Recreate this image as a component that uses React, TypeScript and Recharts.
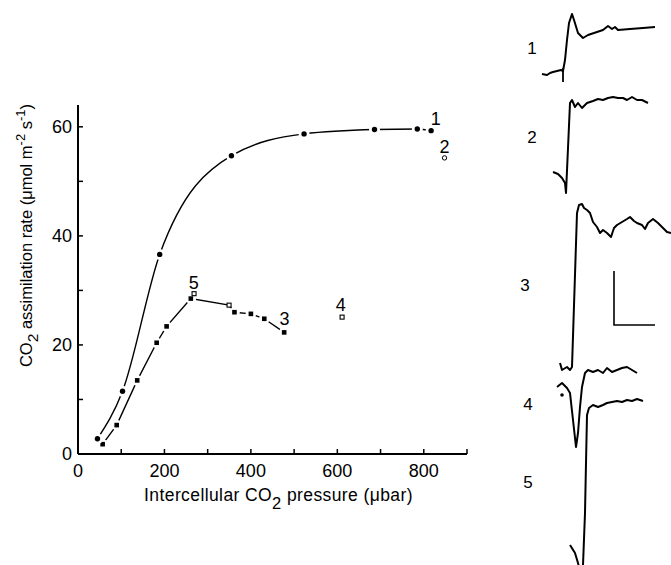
import React from "react";
import { ComposedChart, Line, Scatter, XAxis, YAxis } from "recharts";

// upper curve, filled circles
const upperX = [45, 103, 189, 355, 523, 686, 785, 817];
const upperY = [2.8, 11.5, 36.6, 54.7, 58.7, 59.5, 59.6, 59.3];

// lower curve, filled squares (one open square sits on the line)
const lowerX = [57, 89.5, 137, 182, 205, 261, 349.5, 362, 400, 431, 477];
const lowerY = [1.8, 5.3, 13.5, 20.4, 23.4, 28.5, 27.3, 26.0, 25.7, 24.8, 22.3];
const lowerOpen = [false, false, false, false, false, false, true, false, false, false, false];

// loose open markers
const openSquareX = [268.5, 611];
const openSquareY = [29.4, 25.1];
const openCircleX = [848];
const openCircleY = [54.3];

// point numbers
const pointLabels = ["1", "2", "3", "4", "5"];
const pointLabelX = [828, 848, 478, 608, 268];
const pointLabelY = [61.4, 56.3, 24.7, 27.3, 31.4];

const xTicks = [0, 100, 200, 300, 400, 500, 600, 700, 800, 900];
const yTicks = [0, 10, 20, 30, 40, 50, 60];

// recordings on the right (time, signal with display offset)
const trace1T = [2, 7, 10, 13, 17, 21, 23, 25, 27, 29, 32, 34, 38, 43, 48, 57, 63, 68, 72, 75, 78, 90, 103, 115];
const trace1V = [491, 490, 492, 493, 494, 495, 494, 505, 525, 542, 551, 545, 532, 527, 530, 533, 535, 539, 536, 538, 535, 536, 537, 538];
const mark1T = [23, 23];
const mark1V = [497, 483];

const trace2T = [13, 18, 22, 25, 26, 30, 32, 35, 38, 42, 47, 53, 58, 63, 68, 73, 78, 83, 87, 92, 97, 102, 108];
const trace2V = [393, 391, 387, 382, 372, 462, 465, 458, 462, 457, 462, 464, 466, 465, 467, 468, 467, 467, 465, 468, 465, 465, 462];

const trace3T = [20, 22, 27, 30, 32, 37, 39, 42, 44, 47, 50, 53, 57, 60, 63, 67, 71, 74, 77, 82, 87, 90, 94, 97, 102, 105, 108, 113, 118, 122, 127, 131];
const trace3V = [202, 195, 198, 195, 198, 352, 360, 361, 357, 355, 352, 343, 338, 332, 335, 332, 328, 337, 340, 343, 346, 348, 344, 342, 340, 336, 342, 346, 342, 338, 333, 332];

const trace4T = [17, 22, 27, 30, 33, 36, 38, 40, 42, 45, 48, 53, 58, 63, 67, 72, 77, 82, 87, 92, 97];
const trace4V = [178, 182, 177, 172, 145, 118, 132, 158, 178, 192, 195, 193, 195, 192, 197, 193, 195, 197, 198, 195, 192];
const mark4T = [22];
const mark4V = [170];

const trace5T = [30, 35, 38, 40, 42, 43, 45, 46, 47, 49, 53, 58, 63, 67, 72, 77, 82, 87, 92, 97, 103];
const trace5V = [20, 12, 2, -6, -6, 0, 52, 102, 150, 157, 160, 158, 160, 162, 163, 164, 163, 165, 164, 166, 164];

const scaleBarT = [74, 74, 115];
const scaleBarV = [294, 240, 240];

const traceLabels = ["1", "2", "3", "4", "5"];
const traceLabelT = [-8, -8, -15, -12, -12];
const traceLabelV = [517, 428, 280, 161, 83];

const zip = (xs: number[], ys: number[]) => xs.map((x, i) => ({ x, y: ys[i] }));
const zipT = (ts: number[], vs: number[]) => ts.map((t, i) => ({ t, v: vs[i] }));

const upperData = zip(upperX, upperY);
const lowerData = lowerX.map((x, i) => ({ x, y: lowerY[i], open: lowerOpen[i] }));
const openSquareData = zip(openSquareX, openSquareY);
const openCircleData = zip(openCircleX, openCircleY);
const pointLabelData = pointLabels.map((label, i) => ({ x: pointLabelX[i], y: pointLabelY[i], label }));

const traceData = [
  zipT(trace1T, trace1V),
  zipT(trace2T, trace2V),
  zipT(trace3T, trace3V),
  zipT(trace4T, trace4V),
  zipT(trace5T, trace5V),
];
const traceLabelData = traceLabels.map((label, i) => ({ t: traceLabelT[i], v: traceLabelV[i], label }));

const CircleDot = (props: any) => {
  const { cx, cy, index } = props;
  if (cx == null || cy == null) return <g key={`c${index}`} />;
  return (
    <g key={`c${index}`}>
      <circle cx={cx} cy={cy} r={5.5} fill="#fff" />
      <circle cx={cx} cy={cy} r={2.7} fill="#000" />
    </g>
  );
};

const SquareDot = (props: any) => {
  const { cx, cy, index, payload } = props;
  if (cx == null || cy == null) return <g key={`s${index}`} />;
  if (payload && payload.open) {
    return (
      <rect key={`s${index}`} x={cx - 2} y={cy - 2} width={4} height={4} fill="#fff" stroke="#000" strokeWidth={1.1} />
    );
  }
  return (
    <g key={`s${index}`}>
      <circle cx={cx} cy={cy} r={5.3} fill="#fff" />
      <rect x={cx - 2.3} y={cy - 2.3} width={4.6} height={4.6} fill="#000" />
    </g>
  );
};

const OpenSquare = (props: any) => (
  <rect x={props.cx - 2} y={props.cy - 2} width={4} height={4} fill="#fff" stroke="#000" strokeWidth={1.1} />
);

const OpenCircle = (props: any) => (
  <circle cx={props.cx} cy={props.cy} r={2.2} fill="#fff" stroke="#000" strokeWidth={1} />
);

const NumberText = (props: any) => (
  <text x={props.cx} y={props.cy} textAnchor="middle" dominantBaseline="central" fontSize={18} fill="#000">
    {props.payload.label}
  </text>
);

const YTitle = (props: any) => {
  const vb = props.viewBox;
  const cx = vb.x + 14;
  const cy = vb.y + vb.height / 2 - 44;
  return (
    <text x={cx} y={cy} transform={`rotate(-90, ${cx}, ${cy})`} textAnchor="middle" fontSize={16.5} fill="#000">
      CO<tspan dy={6} fontSize={15.5}>2</tspan>
      <tspan dy={-6}> assimilation rate (μmol m</tspan>
      <tspan dy={-7} fontSize={13}>-2</tspan>
      <tspan dy={7}> s</tspan>
      <tspan dy={-7} fontSize={13}>-1</tspan>
      <tspan dy={7}>)</tspan>
    </text>
  );
};

const XTitle = (props: any) => {
  const vb = props.viewBox;
  const cx = vb.x + vb.width / 2 + 6;
  const cy = vb.y + 47;
  return (
    <text x={cx} y={cy} textAnchor="middle" fontSize={17.5} letterSpacing={0.4} fill="#000">
      Intercellular CO<tspan dy={8} fontSize={16.5}>2</tspan>
      <tspan dy={-8}> pressure (μbar)</tspan>
    </text>
  );
};

const tickFont = { fontSize: 18, fill: "#000" };
const axisLine = { stroke: "#000", strokeWidth: 2 };
const tickLine = { stroke: "#000", strokeWidth: 1.5 };

function AssimilationChart() {
  return (
    <ComposedChart width={490} height={565} margin={{ top: 105, right: 23, bottom: 81, left: 18 }}>
      <XAxis
        type="number"
        dataKey="x"
        domain={[0, 900]}
        ticks={xTicks}
        interval={0}
        tickFormatter={(v) => (v % 200 === 0 && v < 900 ? String(v) : "")}
        tick={tickFont}
        tickSize={-5}
        tickMargin={15}
        axisLine={axisLine}
        tickLine={tickLine}
        height={30}
        label={{ content: XTitle }}
      />
      <XAxis
        xAxisId="top"
        orientation="top"
        type="number"
        dataKey="x"
        domain={[0, 900]}
        ticks={xTicks}
        interval={0}
        tick={false}
        tickSize={-5}
        axisLine={axisLine}
        tickLine={tickLine}
        height={0}
      />
      <YAxis
        type="number"
        domain={[0, 64]}
        ticks={yTicks}
        interval={0}
        tickFormatter={(v) => (v % 20 === 0 ? String(v) : "")}
        tick={tickFont}
        tickSize={-5}
        tickMargin={11}
        axisLine={axisLine}
        tickLine={tickLine}
        width={60}
        label={{ content: YTitle }}
      />
      <YAxis
        yAxisId="right"
        orientation="right"
        type="number"
        domain={[0, 64]}
        ticks={yTicks}
        interval={0}
        tick={false}
        tickSize={-5}
        axisLine={axisLine}
        tickLine={tickLine}
        width={0}
      />
      <Line
        data={lowerData}
        dataKey="y"
        type="linear"
        stroke="#000"
        strokeWidth={1.4}
        dot={SquareDot}
        activeDot={false}
        isAnimationActive={false}
      />
      <Line
        data={upperData}
        dataKey="y"
        type="monotone"
        stroke="#000"
        strokeWidth={1.4}
        dot={CircleDot}
        activeDot={false}
        isAnimationActive={false}
      />
      <Scatter data={openSquareData} dataKey="y" shape={OpenSquare} isAnimationActive={false} />
      <Scatter data={openCircleData} dataKey="y" shape={OpenCircle} isAnimationActive={false} />
      <Scatter data={pointLabelData} dataKey="y" shape={NumberText} isAnimationActive={false} />
    </ComposedChart>
  );
}

function TraceChart() {
  return (
    <ComposedChart width={156} height={565} margin={{ top: 0, right: 0, bottom: 0, left: 0 }}>
      <XAxis type="number" dataKey="t" domain={[-25, 131]} hide allowDataOverflow />
      <YAxis type="number" domain={[0, 565]} hide allowDataOverflow />
      {traceData.map((d, i) => (
        <Line
          key={i}
          data={d}
          dataKey="v"
          type="linear"
          stroke="#000"
          strokeWidth={2}
          strokeLinejoin="round"
          dot={false}
          activeDot={false}
          isAnimationActive={false}
        />
      ))}
      <Line
        data={zipT(mark1T, mark1V)}
        dataKey="v"
        type="linear"
        stroke="#000"
        strokeWidth={1.8}
        dot={false}
        activeDot={false}
        isAnimationActive={false}
      />
      <Line
        data={zipT(scaleBarT, scaleBarV)}
        dataKey="v"
        type="linear"
        stroke="#000"
        strokeWidth={1.6}
        dot={false}
        activeDot={false}
        isAnimationActive={false}
      />
      <Scatter
        data={zipT(mark4T, mark4V)}
        dataKey="v"
        shape={(p: any) => <circle cx={p.cx} cy={p.cy} r={1.8} fill="#000" />}
        isAnimationActive={false}
      />
      <Scatter
        data={traceLabelData}
        dataKey="v"
        shape={(p: any) => (
          <text x={p.cx} y={p.cy} textAnchor="middle" dominantBaseline="central" fontSize={17} fill="#000">
            {p.payload.label}
          </text>
        )}
        isAnimationActive={false}
      />
    </ComposedChart>
  );
}

export default function App() {
  return (
    <div
      style={{
        position: "absolute",
        left: 0,
        top: 0,
        width: 671,
        height: 565,
        background: "#fff",
        fontFamily: "'Liberation Sans', Arial, Helvetica, sans-serif",
      }}
    >
      <div style={{ position: "absolute", left: 0, top: 0 }}>
        <AssimilationChart />
      </div>
      <div style={{ position: "absolute", left: 515, top: 0 }}>
        <TraceChart />
      </div>
    </div>
  );
}
